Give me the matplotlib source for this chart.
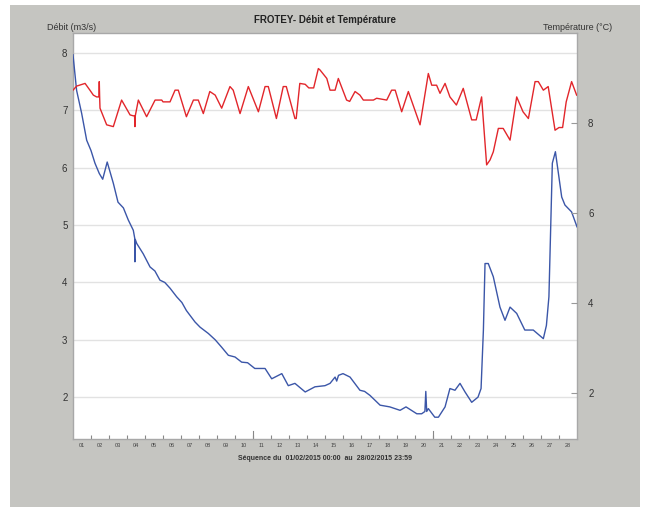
import matplotlib
matplotlib.use("Agg")
import matplotlib.pyplot as plt
from matplotlib.patches import Rectangle

plt.rcParams['font.family'] = ['Liberation Sans', 'DejaVu Sans']

# ---- data (days since 01/02/2015 00:00) ----
q_time = [0.0, 0.2, 0.48, 0.76, 1.0, 1.22, 1.46, 1.65, 1.9, 2.24, 2.5, 2.8, 3.07, 3.35, 3.43, 3.44, 3.46, 3.54,
          3.9, 4.28, 4.55, 4.83, 5.1, 5.39, 5.76, 6.05, 6.3, 6.78, 7.06, 7.52, 7.9, 8.26, 8.63, 9.0, 9.37,
          9.7, 10.1, 10.67, 11.04, 11.6, 11.96, 12.33, 12.9, 13.44, 14.0, 14.28, 14.56, 14.65, 14.75, 15.0,
          15.39, 15.94, 16.2, 16.5, 17.06, 17.6, 18.17, 18.5, 19.1, 19.37, 19.55, 19.6, 19.65, 19.74, 20.1,
          20.3, 20.67, 20.94, 21.22, 21.5, 21.78, 22.15, 22.5, 22.67, 22.8, 22.89, 23.07, 23.35,
          23.72, 24.0, 24.28, 24.65, 25.1, 25.57, 26.13, 26.3, 26.44, 26.63, 26.8, 27.15,
          27.33, 27.7, 28.0]
q_vals = [7.97, 7.35, 6.95, 6.48, 6.3, 6.08, 5.9, 5.8, 6.1, 5.73, 5.4, 5.3, 5.09, 4.91, 4.77, 4.36, 4.75, 4.68,
          4.5, 4.27, 4.2, 4.04, 4.0, 3.9, 3.75, 3.65, 3.51, 3.31, 3.22, 3.11, 3.0, 2.87, 2.73, 2.7, 2.61,
          2.6, 2.5, 2.5, 2.32, 2.41, 2.2, 2.24, 2.09, 2.18, 2.2, 2.24, 2.35, 2.28, 2.38, 2.41,
          2.35, 2.12, 2.1, 2.03, 1.86, 1.83, 1.77, 1.83, 1.71, 1.71, 1.75, 2.1, 1.75, 1.8, 1.65,
          1.65, 1.83, 2.15, 2.12, 2.24, 2.09, 1.91, 2.0, 2.15, 3.17, 4.33, 4.33, 4.1,
          3.57, 3.34, 3.57, 3.46, 3.17, 3.17, 3.02, 3.25, 3.75, 6.08, 6.28, 5.49,
          5.35, 5.23, 4.97]

t_time = [0.0, 0.2, 0.67, 0.94, 1.13, 1.31, 1.44, 1.46, 1.48, 1.5, 1.87, 2.24, 2.7, 3.17, 3.35,
          3.42, 3.44, 3.46, 3.63, 4.09, 4.56, 4.93, 5.0, 5.39, 5.67, 5.85, 6.3, 6.69, 6.96,
          7.24, 7.6, 7.9, 8.26, 8.72, 8.9, 9.28, 9.74, 10.3, 10.67, 10.85, 11.3, 11.68, 11.85,
          12.33, 12.4, 12.6, 12.9, 13.1, 13.37, 13.63, 13.72, 14.1, 14.28, 14.56, 14.74, 15.2,
          15.37, 15.67, 15.94, 16.13, 16.69, 16.87, 17.43, 17.7, 17.9, 18.26, 18.63, 19.28,
          19.74, 19.93, 20.2, 20.39, 20.67, 20.94, 21.3, 21.68, 22.15, 22.4, 22.7, 22.98,
          23.17, 23.35, 23.63, 23.9, 24.28, 24.65, 25.0, 25.3, 25.67, 25.85, 26.13, 26.4,
          26.78, 27.0, 27.2, 27.4, 27.7, 27.98]
t_vals = [8.73, 8.82, 8.88, 8.73, 8.62, 8.58, 8.58, 8.92, 8.58, 8.33, 7.96, 7.92, 8.51, 8.18, 8.16,
          8.16, 7.92, 8.16, 8.51, 8.14, 8.51, 8.51, 8.47, 8.47, 8.73, 8.73, 8.14, 8.51, 8.51,
          8.21, 8.7, 8.62, 8.33, 8.81, 8.73, 8.21, 8.81, 8.25, 8.81, 8.81, 8.1, 8.81, 8.81,
          8.1, 8.1, 8.88, 8.86, 8.78, 8.78, 9.21, 9.18, 8.99, 8.73, 8.73, 8.99, 8.51,
          8.48, 8.7, 8.62, 8.51, 8.51, 8.55, 8.51, 8.73, 8.73, 8.25, 8.7, 7.96,
          9.1, 8.84, 8.84, 8.66, 8.88, 8.58, 8.4, 8.77, 8.07, 8.07, 8.58, 7.07,
          7.18, 7.36, 7.88, 7.88, 7.62, 8.58, 8.25, 8.1, 8.92, 8.92, 8.73, 8.81,
          7.84, 7.9, 7.9, 8.47, 8.92, 8.62]

day_labels = ["%02d" % d for d in range(1, 29)]
q_ticks = [2, 3, 4, 5, 6, 7, 8]
t_ticks = [2, 4, 6, 8]

title = "FROTEY- Débit et Température"
left_label = "Débit (m3/s)"
right_label = "Température (°C)"
xlabel = "Séquence du  01/02/2015 00:00  au  28/02/2015 23:59"

# ---- figure ----
W, H = 652, 514
fig = plt.figure(figsize=(W / 100, H / 100), dpi=100, facecolor="white")
bg = "#c5c5c1"
fig.patches.append(Rectangle((10 / W, 1 - 507 / H), (640 - 10) / W, (507 - 5) / H,
                             transform=fig.transFigure, facecolor=bg, edgecolor="none", zorder=-10))

ax = fig.add_axes([73 / W, 1 - 439 / H, (577 - 73) / W, (439 - 33) / H])
ax.set_facecolor("white")
ax.set_xlim(0, 28)
ax.set_ylim(1.27, 8.35)
for s in ax.spines.values():
    s.set_color("#a8a8a8")
    s.set_linewidth(1.0)

ax.grid(axis="y", color="#e2e2e2", linewidth=1.0)
ax.set_axisbelow(True)
ax.set_yticks(q_ticks)
ax.set_yticklabels([str(v) for v in q_ticks], fontsize=7, color="#333333")
ax.tick_params(axis="y", length=0, pad=4)

ax.set_xticks(range(1, 28))
ax.set_xticklabels([])
ax.set_xticks([d + 0.5 for d in range(28)], minor=True)
ax.set_xticklabels(day_labels, minor=True, fontsize=4, color="#444444")
ax.tick_params(axis="x", which="major", direction="in", length=3, color="#888888", width=0.8)
ax.tick_params(axis="x", which="minor", length=0, pad=3)
for d in (10, 20):
    ax.axvline(d, ymin=0, ymax=0.02, color="#888888", linewidth=0.8)

ax.plot(q_time, q_vals, color="#3b56a8", linewidth=1.0, zorder=3)

ax2 = ax.twinx()
ax2.set_ylim(0.98, 10.0)
ax2.set_yticks(t_ticks)
ax2.set_yticklabels([str(v) for v in t_ticks], fontsize=7, color="#333333")
ax2.tick_params(axis="y", direction="in", length=4, color="#999999", pad=8)
for s in ax2.spines.values():
    s.set_visible(False)
ax2.plot(t_time, t_vals, color="#e2262b", linewidth=1.0, zorder=3)

fig.text(325 / W, 1 - 20 / H, title, ha="center", va="center", fontsize=7,
         fontweight="bold", color="#222222")
fig.text(47 / W, 1 - 28 / H, left_label, ha="left", va="center", fontsize=6.5, color="#333333")
fig.text(612 / W, 1 - 28 / H, right_label, ha="right", va="center", fontsize=6.5, color="#333333")
fig.text(325 / W, 1 - 458 / H, xlabel, ha="center", va="center", fontsize=5,
         fontweight="bold", color="#333333")

fig.savefig("out.png", dpi=100, facecolor=fig.get_facecolor())
